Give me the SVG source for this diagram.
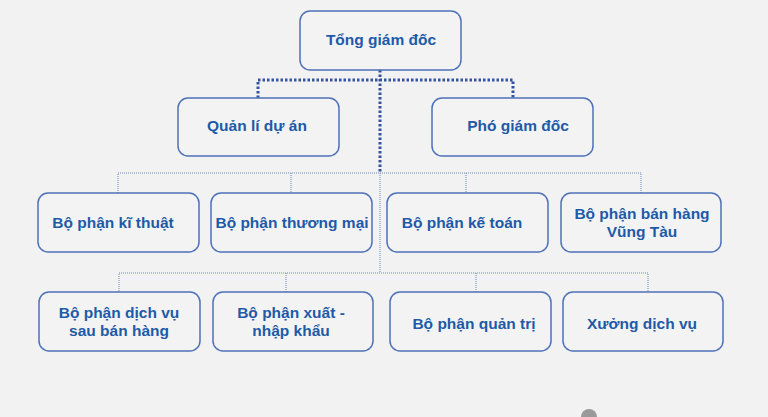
<svg xmlns="http://www.w3.org/2000/svg" width="768" height="417" viewBox="0 0 768 417">
<style>
.box{fill:#f3f3f4;stroke:#4f72b8;stroke-width:1.5}
.t{font-family:"Liberation Sans",Arial,sans-serif;font-weight:bold;font-size:15.5px;fill:#1d5aa8;text-anchor:middle}
.thick{fill:none;stroke:#34529e;stroke-width:3;stroke-dasharray:2.5 2}
.thin{fill:none;stroke:#6f88c0;stroke-width:1;stroke-dasharray:1 1}
</style>
<rect width="768" height="417" fill="#f2f2f2"/>
<g id="connectors">
<path class="thick" d="M380 70V173M258 98V80H513V98"/>
<path class="thin" d="M380 173V273M118 193V173H641V193M291 173V193M466 173V193M119 293V273H648V293M286 273V293M476 273V293"/>
</g>
<g id="n-tgd"><rect class="box" x="300" y="11" width="161" height="59" rx="10"/><text class="t" x="381" y="45">Tổng giám đốc</text></g>
<g id="n-qlda"><rect class="box" x="178" y="98" width="161" height="58" rx="10"/><text class="t" x="257" y="131">Quản lí dự án</text></g>
<g id="n-pgd"><rect class="box" x="432" y="98" width="161" height="58" rx="10"/><text class="t" x="518" y="131">Phó giám đốc</text></g>
<g id="n-kt"><rect class="box" x="38" y="193" width="161" height="59" rx="10"/><text class="t" x="113" y="228">Bộ phận kĩ thuật</text></g>
<g id="n-tm"><rect class="box" x="211" y="193" width="161" height="59" rx="10"/><text class="t" x="292" y="228">Bộ phận thương mại</text></g>
<g id="n-kto"><rect class="box" x="387" y="193" width="161" height="59" rx="10"/><text class="t" x="462" y="228">Bộ phận kế toán</text></g>
<g id="n-bh"><rect class="box" x="561" y="193" width="160" height="59" rx="10"/><text class="t" x="642" y="219">Bộ phận bán hàng</text><text class="t" x="642" y="237">Vũng Tàu</text></g>
<g id="n-dv"><rect class="box" x="39" y="292" width="161" height="59" rx="10"/><text class="t" x="119" y="318">Bộ phận dịch vụ</text><text class="t" x="119" y="336">sau bán hàng</text></g>
<g id="n-xnk"><rect class="box" x="213" y="292" width="160" height="59" rx="10"/><text class="t" x="291" y="318">Bộ phận xuất -</text><text class="t" x="291" y="336">nhập khẩu</text></g>
<g id="n-qt"><rect class="box" x="390" y="292" width="161" height="59" rx="10"/><text class="t" x="474" y="329">Bộ phận quản trị</text></g>
<g id="n-xdv"><rect class="box" x="563" y="292" width="160" height="59" rx="10"/><text class="t" x="642" y="329">Xưởng dịch vụ</text></g>
<ellipse cx="589" cy="417" rx="8" ry="8" fill="#9a9a9a"/>
</svg>
